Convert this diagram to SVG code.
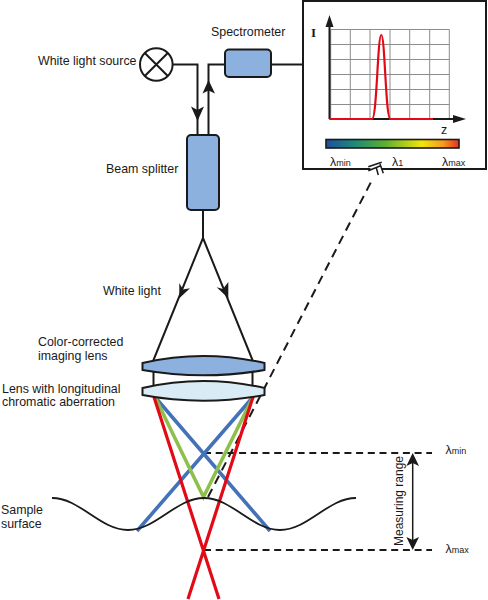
<svg xmlns="http://www.w3.org/2000/svg" width="488" height="600" viewBox="0 0 488 600">
<defs>
<linearGradient id="spec" x1="0" x2="1" y1="0" y2="0">
<stop offset="0" stop-color="#1f4f9e"/><stop offset="0.22" stop-color="#1d8a78"/><stop offset="0.45" stop-color="#5fb030"/><stop offset="0.72" stop-color="#f2e60a"/><stop offset="0.88" stop-color="#f59a20"/><stop offset="1" stop-color="#e8301f"/>
</linearGradient>
</defs>
<style>
text{font-family:"Liberation Sans",Arial,sans-serif;font-size:12.4px;fill:#1a1a1a}
.ln{fill:none;stroke:#1a1a1a;stroke-width:2}
.thin{fill:none;stroke:#1a1a1a;stroke-width:1.5}
.head{fill:#1a1a1a}
.box{fill:#8db1df;stroke:#1a1a1a;stroke-width:2}
.dash{fill:none;stroke:#1a1a1a;stroke-width:2}
.grid{fill:none;stroke:#8c8c8c;stroke-width:1}
.ray{fill:none;stroke-width:3.6}
.sub{font-size:9px}
</style>
<g id="connectors">
<path class="ln" d="M172,64.500 H197.500 V136"/>
<path class="head" d="M191,106.500 L197.500,121 L204,106.500 L197.500,110 Z"/>
<path class="ln" d="M208.500,136 V64.500 H225"/>
<path class="head" d="M202.500,93.500 L208.500,80 L215,93.500 L208.500,90.500 Z"/>
<path class="ln" d="M271,64.500 H303"/>
<path class="ln" d="M203,210 V238 L153.500,360 V388 M203,238 L252.500,360 V388"/>
<path class="head" d="M179.300,298.300 L179.300,283 L183,289.500 L190,288.300 Z"/>
<path class="head" d="M228.300,298.300 L228.300,282 L223,289 L216.700,287.300 Z"/>
<path class="dash" stroke-dasharray="9 6" d="M208,497 L371,182"/>
<path class="dash" stroke-dasharray="7 4.700" d="M204,453 H432 M204,550 H432"/>
<path class="thin" d="M412.700,460 V543"/>
<path class="head" d="M412.700,453 L419,466 L412.700,463 L406.400,466 Z M412.700,550 L419,537 L412.700,540 L406.400,537 Z"/>
</g>
<g id="rays">
<path class="ray" stroke="#4472b8" d="M155,397 L270,531 M253,397 L137,531"/>
<path class="ray" stroke="#8dbf4a" d="M155,397 L203.500,497 L253,397"/>
<path class="ray" stroke="#e30a17" style="stroke-width:3.2" d="M154,397 L219,599 M253,397 L188,599"/>
</g>
<g id="surface">
<path d="M52,498 C80,498 100,530 128,530 S176,498 204,498 S252,530 280,530 S328,498 356,498" fill="none" stroke="#1a1a1a" stroke-width="1.800"/>
<text x="1" y="514">Sample</text><text x="1" y="528">surface</text>
</g>
<g id="lamp">
<circle cx="156.300" cy="64.500" r="16.300" fill="#fff" stroke="#1a1a1a" stroke-width="2"/>
<path class="ln" d="M144.800,53 L167.800,76 M167.800,53 L144.800,76"/>
<text x="38" y="65">White light source</text>
</g>
<g id="spectrometer">
<rect class="box" x="225" y="49.500" width="46" height="27.500" rx="4"/>
<text x="211" y="36">Spectrometer</text>
</g>
<g id="beam-splitter">
<rect class="box" x="187" y="135" width="32" height="75" rx="4"/>
<text x="106" y="173">Beam splitter</text>
</g>
<g id="white-light"><text x="103" y="295">White light</text></g>
<g id="imaging-lens">
<path d="M142.500,363 Q203,349 264.500,363 V370 Q203,380.600 142.500,370 Z" fill="#8db1df" stroke="#1a1a1a" stroke-width="2"/>
<text x="38" y="345.500">Color-corrected</text><text x="38" y="360">imaging lens</text>
</g>
<g id="chromatic-lens">
<path d="M142.500,388 Q203,374 264.500,388 V395 Q203,406.400 142.500,395 Z" fill="#d9ecf5" stroke="#1a1a1a" stroke-width="2"/>
<text x="2" y="392.500">Lens with longitudinal</text><text x="2" y="406">chromatic aberration</text>
</g>
<g id="inset">
<rect x="303" y="1" width="183" height="168" fill="#fff" stroke="#1a1a1a" stroke-width="2"/>
<path class="grid" d="M330.700,29.500 V119 M350.300,29.500 V119 M370,29.500 V119 M390,29.500 V119 M409.700,29.500 V119 M429.700,29.500 V119 M449.300,29.500 V119 M330.700,29.500 H449.300 M330.700,44.500 H449.300 M330.700,59.500 H449.300 M330.700,74.500 H449.300 M330.700,89.500 H449.300 M330.700,104.500 H449.300"/>
<path class="ln" d="M329.500,119 V26 M329.500,119 H455"/>
<path class="head" d="M329.500,15 L333.500,27 H325.500 Z M466,119 L453,115 V123 Z"/>
<path d="M329.500,119 H372 C377,119 377.500,35 381.300,35 C385,35 385.500,119 390.500,119 H433" fill="none" stroke="#e30a17" stroke-width="2.200"/>
<rect x="326" y="139.500" width="133" height="8.500" fill="url(#spec)" stroke="#1a1a1a" stroke-width="1.600"/>
<text x="311" y="37" style="font-family:'Liberation Serif',serif;font-weight:bold;font-size:13px">I</text>
<text x="441" y="134">z</text>
<text x="330" y="165.500">λ<tspan class="sub">min</tspan></text>
<text x="392" y="165.500">λ<tspan class="sub">1</tspan></text>
<text x="442" y="165.500">λ<tspan class="sub">max</tspan></text>
<path d="M370,168 L379,165 L383,171 L373,171 Z" fill="#fff"/>
<path class="thin" d="M368.300,166.700 L381.700,162.300 M368.300,170.700 L380,166 M376,166.700 L378.300,175 M380,164 L383.300,173.300"/>
</g>
<g id="range-labels">
<text transform="translate(403.300,501) rotate(-90)" text-anchor="middle" style="font-size:12px">Measuring range</text>
<text x="445.500" y="454">λ<tspan class="sub">min</tspan></text>
<text x="445.500" y="553">λ<tspan class="sub">max</tspan></text>
</g>
</svg>
